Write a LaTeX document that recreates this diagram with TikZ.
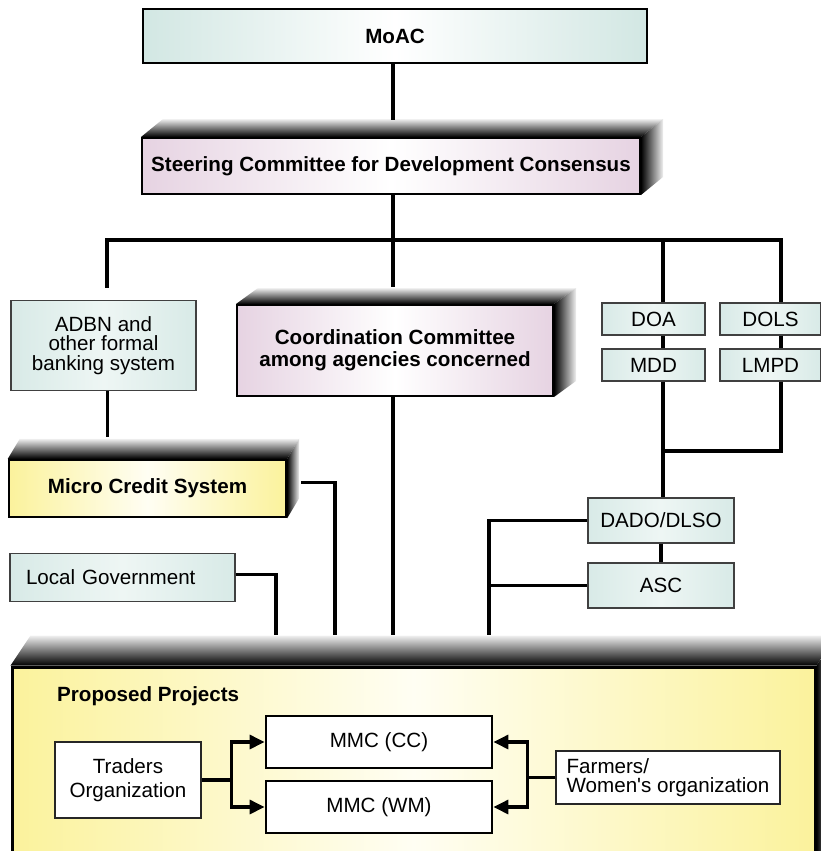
\documentclass[tikz,border=0pt]{standalone}
\usepackage{fontspec}
\setmainfont{Liberation Sans}
\usetikzlibrary{calc,arrows.meta}
\pgfdeclarelayer{bg}
\pgfsetlayers{bg,main}
\definecolor{cyanE}{HTML}{D2E7E3}
\definecolor{cyanS}{HTML}{D8EAE7}
\definecolor{cyanM}{HTML}{EEF6F4}
\definecolor{pinkE}{HTML}{E6D3E2}
\definecolor{yelE}{HTML}{FBF29C}
\definecolor{yelM}{HTML}{FFFEF3}
\newcommand\fsz[1]{\fontsize{20.6pt}{#1}\selectfont}
\newcommand\bevel[3]{%
  \shade[top color=gray!12,bottom color=black] (#1.north west) -- ++(#2,-#3) -- ($(#1.north east)+(#2,-#3)$) -- (#1.north east) -- cycle;
  \shade[left color=black,right color=gray!12] (#1.north east) -- ++(#2,-#3) -- ($(#1.south east)+(#2,-#3)$) -- (#1.south east) -- cycle;
}
\tikzset{
  every node/.style={inner sep=0pt, font=\fsz{20pt}},
  conn/.style={line width=3.2pt},
  arr/.style={line width=3.2pt,-{Triangle[length=15pt,width=14pt]}},
  smallbox/.style={draw=black!75, line width=1.3pt, left color=cyanS, right color=cyanS, middle color=cyanM},
  moacbox/.style={draw=black, line width=2.6pt, left color=cyanE, right color=cyanE, middle color=white, font=\bfseries\fsz{20pt}},
  pinkbox/.style={draw=black, line width=2pt, left color=pinkE, right color=pinkE, middle color=white, font=\bfseries\fsz{22pt}, align=center},
  yelbox/.style={draw=black, line width=2.4pt, left color=yelE, right color=yelE, middle color=yelM},
  whitebox/.style={draw=black!85, line width=1.5pt, fill=white, align=center},
  mmcbox/.style={draw=black, line width=2.8pt, fill=white, minimum width=226pt, minimum height=52pt}
}
\begin{document}
\begin{tikzpicture}[x=1pt,y=-1pt]
\useasboundingbox (0,0) rectangle (821,851);
\clip (0,0) rectangle (821,851);

% top nodes
\node[moacbox, minimum width=504pt, minimum height=54pt] (moac) at (395,36) {MoAC};
\node[pinkbox, minimum width=498pt, minimum height=56pt] (steer) at (391,166) {Steering Committee for Development Consensus};
\node[smallbox, minimum width=185pt, minimum height=90pt, align=center, font=\fsz{19.5pt}] (adbn) at (103.5,345.5) {ADBN and\\other formal\\banking system};
\node[pinkbox, minimum width=316pt, minimum height=91pt] (coord) at (395,350.5) {Coordination Committee\\among agencies concerned};
\node[smallbox, minimum width=103pt, minimum height=32pt] (doa) at (653.5,319) {DOA};
\node[smallbox, minimum width=101pt, minimum height=32pt] (dols) at (770.5,319) {DOLS};
\node[smallbox, minimum width=103pt, minimum height=32pt] (mdd) at (653.5,365) {MDD};
\node[smallbox, minimum width=101pt, minimum height=32pt] (lmpd) at (770.5,365) {LMPD};
\node[yelbox, minimum width=277pt, minimum height=57pt, font=\bfseries\fsz{20pt}] (mcs) at (147.5,488.5) {Micro Credit System};
\node[smallbox, minimum height=48pt, text width=193pt, inner xsep=16pt, align=left] (lg) at (122.5,577.5) {Local Government};
\node[smallbox, minimum width=146pt, minimum height=45pt] (dado) at (661,520.5) {DADO/DLSO};
\node[smallbox, minimum width=146pt, minimum height=45pt] (asc) at (661,585.5) {ASC};

% bottom container
\node[yelbox, line width=3pt, minimum width=803pt, minimum height=203pt] (proj) at (413.5,768.5) {};
\node[anchor=west, font=\bfseries\fsz{20pt}] (pp) at (57,696) {Proposed Projects};
\node[whitebox, minimum width=146pt, minimum height=76pt, font=\fsz{24pt}] (traders) at (128,780) {Traders\\Organization};
\node[mmcbox] (mmccc) at (379,742) {MMC (CC)};
\node[mmcbox] (mmcwm) at (379,807) {MMC (WM)};
\node[whitebox, minimum width=224pt, minimum height=53pt, align=left, font=\fsz{19.5pt}] (farmers) at (668,777.5) {Farmers/\\Women\textquotesingle s organization};

% bevels
\begin{pgfonlayer}{bg}
\fill[white] (0,0) rectangle (821,851);
\bevel{steer}{22}{18}
\bevel{coord}{22}{16}
\bevel{mcs}{12}{20}
\bevel{proj}{20}{30}
\end{pgfonlayer}

% connection points
\coordinate (steertop) at (393,120);
\coordinate (busC) at (393,240);
\coordinate (coordtop) at (393,287);
\coordinate (mcstop) at (107.5,437);
\coordinate (jn) at (663,451);
\coordinate (p1) at (276,635);
\coordinate (p2) at (335,635);
\coordinate (p3) at (393,635);
\coordinate (p4) at (489,635);

% connectors
\draw[conn] (moac.south -| steertop) -- (steertop);
\draw[conn] (steer.south -| busC) -- (busC);
\draw[conn] ([xshift=3.5pt,yshift=12pt]adbn.north) |- (busC) -| ([xshift=9.5pt]doa.north);
\draw[conn] ([xshift=9.5pt]doa.north |- busC) -| ([xshift=10.5pt]dols.north);
\draw[conn] (busC) -- (coordtop);
\draw[conn] ([xshift=4pt]adbn.south) -- (mcstop);
\draw[conn] ([xshift=9.5pt]doa.south) -- ([xshift=9.5pt]mdd.north);
\draw[conn] ([xshift=10.5pt]dols.south) -- ([xshift=10.5pt]lmpd.north);
\draw[conn] ([xshift=9.5pt]mdd.south) -- (jn) -- (jn |- dado.north);
\draw[conn] ([xshift=10.5pt]lmpd.south) |- (jn);
\draw[conn] (dado) -- (asc);
\draw[conn] (dado.west) -| (p4);
\draw[conn] (asc.west) -- (asc.west -| p4);
\draw[conn] (coord.south -| p3) -- (p3);
\draw[conn] ([xshift=14pt,yshift=6pt]mcs.east) -| (p2);
\draw[conn] ([yshift=3pt]lg.east) -| (p1);

% inside proposed projects
\draw[conn] (traders.east) -- ++(30,0) coordinate (tj);
\draw[arr] (tj) |- (mmccc.west);
\draw[arr] (tj) |- (mmcwm.west);
\draw[conn] (farmers.west) -- ++(-28,0) coordinate (fj);
\draw[arr] (fj) |- (mmccc.east);
\draw[arr] (fj) |- (mmcwm.east);
\end{tikzpicture}
\end{document}
